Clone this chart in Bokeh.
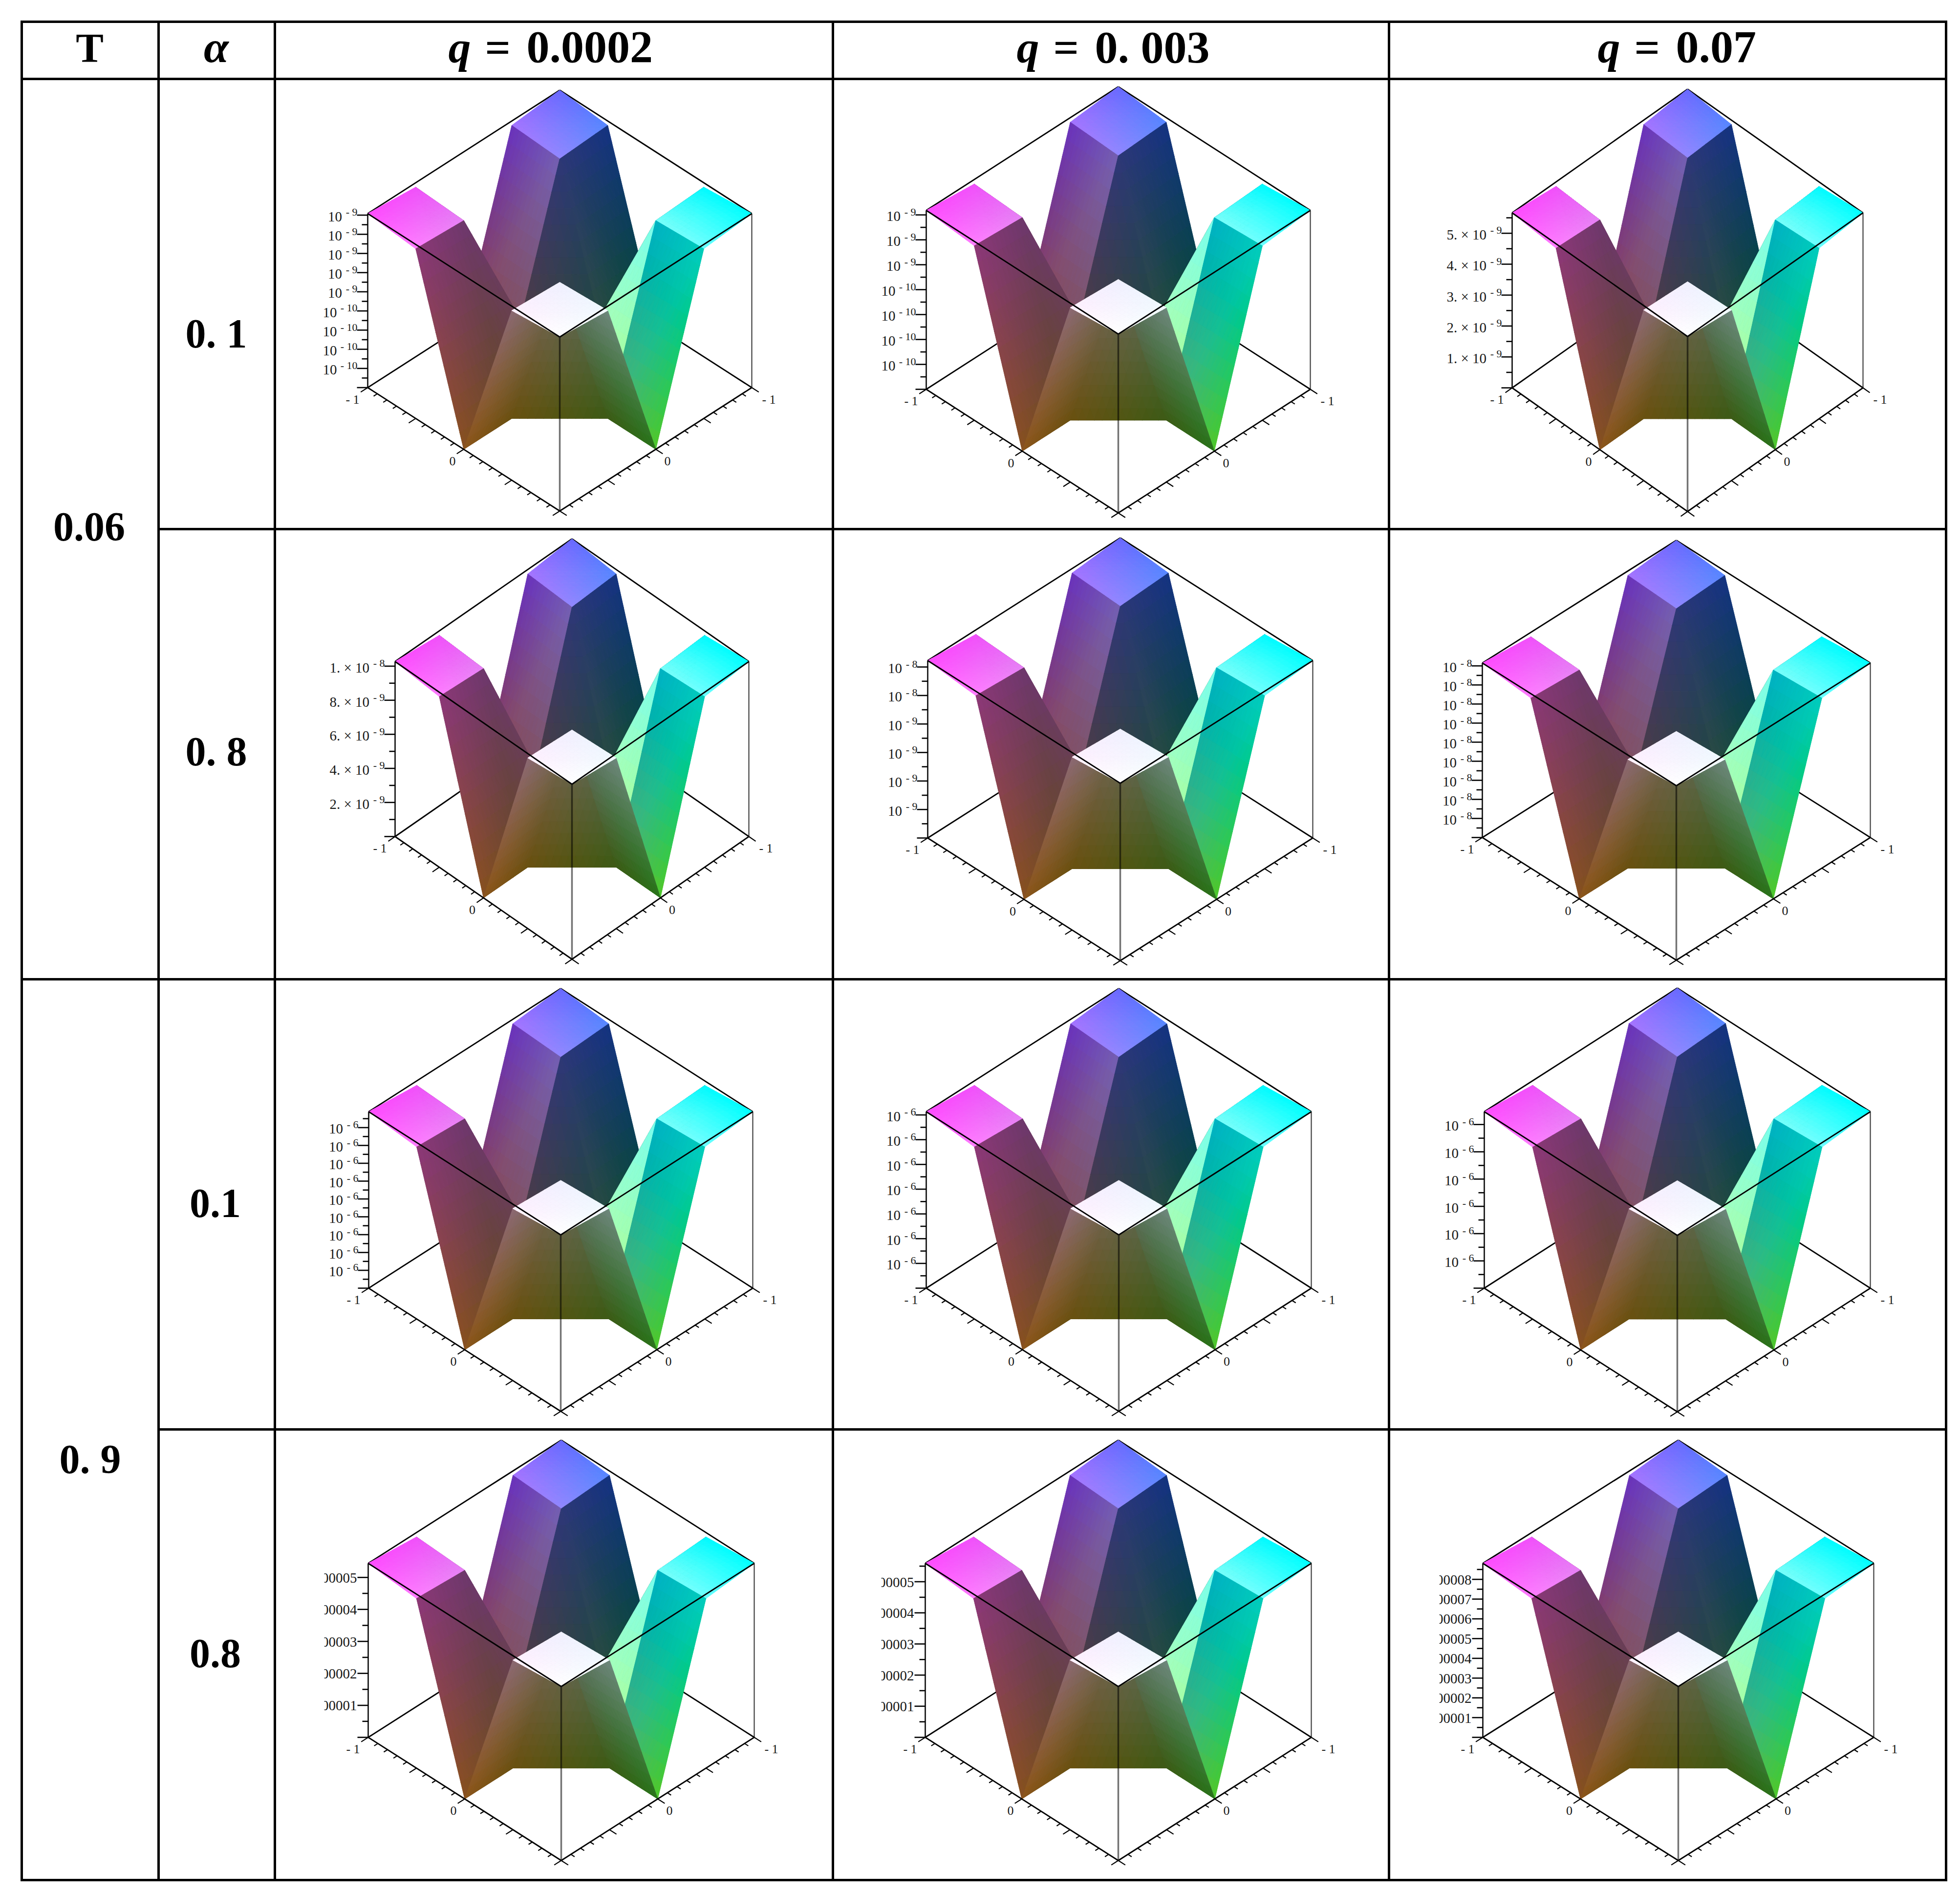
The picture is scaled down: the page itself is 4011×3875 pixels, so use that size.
import numpy as np
from bokeh.plotting import figure
from bokeh.models import ColumnDataSource, Range1d
from bokeh.embed import file_html
from bokeh.resources import INLINE
from bokeh.core.properties import value

# ---------- data ----------
T_LABELS = ["0.06", "0. 9"]
ALPHA_LABELS = ["0. 1", "0. 8", "0.1", "0.8"]
Q_LABELS = ["0.0002", "0. 003", "0.07"]
GRID = [-1.0, -0.5, 0.0, 0.5, 1.0]
# normalised height of the surface at GRID[i], GRID[j]
Z_SURFACE = [
    [1.000, 0.975, 0.0, 0.975, 1.000],
    [0.975, 0.960, 0.0, 0.960, 0.975],
    [0.000, 0.000, 0.0, 0.000, 0.000],
    [0.975, 0.960, 0.0, 0.960, 0.975],
    [1.000, 0.975, 0.0, 0.975, 1.000],
]
# top of vertical axis, tick step and tick count per panel (row by row)
Z_MAX = [9.08e-10, 7.18e-10, 5.66e-9, 1.027e-8, 1.245e-8, 9.15e-8,
         9.89e-6, 7.13e-6, 6.47e-6, 5.44e-5, 5.59e-5, 8.81e-5]
Z_STEP = [1e-10, 1e-10, 1e-9, 2e-9, 2e-9, 1e-8, 1e-6, 1e-6, 1e-6, 1e-5, 1e-5, 1e-5]
Z_COUNT = [9, 7, 5, 5, 6, 9, 9, 7, 6, 5, 5, 8]
# (label, exponent) shown on the vertical axis from the top down
Z_LABELS = [
    [("10", "- 9")] * 5 + [("10", "- 10")] * 4,
    [("10", "- 9")] * 3 + [("10", "- 10")] * 4,
    [("5. × 10", "- 9"), ("4. × 10", "- 9"), ("3. × 10", "- 9"), ("2. × 10", "- 9"), ("1. × 10", "- 9")],
    [("1. × 10", "- 8"), ("8. × 10", "- 9"), ("6. × 10", "- 9"), ("4. × 10", "- 9"), ("2. × 10", "- 9")],
    [("10", "- 8")] * 2 + [("10", "- 9")] * 4,
    [("10", "- 8")] * 9,
    [("10", "- 6")] * 9,
    [("10", "- 6")] * 7,
    [("10", "- 6")] * 6,
    [("0.00005", ""), ("0.00004", ""), ("0.00003", ""), ("0.00002", ""), ("0.00001", "")],
    [("0.00005", ""), ("0.00004", ""), ("0.00003", ""), ("0.00002", ""), ("0.00001", "")],
    [("0.00008", ""), ("0.00007", ""), ("0.00006", ""), ("0.00005", ""), ("0.00004", ""),
     ("0.00003", ""), ("0.00002", ""), ("0.00001", "")],
]

# ---------- shading of each surface cell: RGB at corners A(i,j) B(i+1,j) C(i,j+1) D(i+1,j+1) ----------
SHADE = {
    (0, 0): [(105, 105, 255), (165, 115, 255), (85, 135, 255), (145, 135, 255)],
    (0, 1): [(20, 50, 130), (45, 55, 120), (0, 75, 45), (40, 80, 50)],
    (0, 2): [(10, 90, 70), (30, 90, 70), (20, 120, 110), (30, 110, 110)],
    (0, 3): [(0, 250, 255), (120, 255, 250), (0, 255, 255), (110, 255, 255)],
    (1, 0): [(105, 50, 190), (140, 65, 70), (115, 95, 180), (130, 80, 80)],
    (1, 3): [(-25, 178, 197), (95, 175, 100), (-45, 205, 190), (80, 200, 40)],
    (2, 0): [(140, 65, 80), (120, 55, 120), (130, 75, 85), (125, 60, 110)],
    (2, 3): [(60, 90, 20), (105, 115, 110), (40, 115, 25), (110, 135, 125)],
    (3, 0): [(240, 80, 250), (255, 75, 255), (230, 130, 245), (255, 125, 255)],
    (3, 1): [(110, 55, 110), (140, 55, 120), (100, 75, 30), (135, 80, 30)],
    (3, 2): [(105, 80, 15), (140, 85, 25), (110, 105, 95), (140, 105, 115)],
    (3, 3): [(240, 240, 255), (255, 240, 255), (240, 250, 255), (255, 255, 255)],
}
# cells whose two triangles differ: (A,B,C), (B,C,D)
SHADE_TRI = {
    (1, 1): [[(45, 55, 120), (85, 60, 55), (30, 75, 50)], [(70, 70, 40), (70, 70, 40), (70, 70, 40)]],
    (1, 2): [[(30, 70, 50), (50, 70, 50), (30, 70, 70)], [(200, 255, 150), (120, 255, 240), (190, 255, 130)]],
    (2, 1): [[(130, 80, 80), (125, 60, 110), (135, 85, 85)], [(110, 55, 110), (100, 70, 60), (100, 75, 30)]],
    (2, 2): [[(75, 75, 20), (75, 75, 20), (75, 75, 20)], [(105, 80, 15), (60, 90, 20), (110, 105, 95)]],
}

# ---------- layout (reference pixels) ----------
W, H = 3995, 3859
# centre x, y of the top diamond's centre, half width, half height, axis height
PANELS = [
    (1145, 436.5, 393, 252.5, 356), (2288, 430, 393, 253, 366), (3453, 435, 359, 253, 358),
    (1170, 1353, 362, 251, 358), (2292, 1351, 394, 251, 363), (3430, 1356, 397, 251, 357),
    (1147, 2274, 393, 252, 361), (2289, 2274, 394, 252, 361), (3432, 2274, 395, 253, 361),
    (1148, 3198, 395, 252, 356), (2288, 3198, 395, 252, 356), (3434, 3198, 400, 252, 356),
]
CLIP_X = {9: 663, 10: 1803, 11: 2945}
SUB = 12
BASE = 0.33  # the text anchor sits this fraction of the font size above the glyph baseline

p = figure(width=W, height=H, x_range=Range1d(0, W), y_range=Range1d(H, 0),
           output_backend="svg", toolbar_location=None, min_border=0)
p.axis.visible = False
p.grid.visible = False
p.outline_line_color = None


def proj(panel, x, y, z):
    cx, cy, hw, hh, zh = panel
    return cx + hw * (y - x) / 2.0, cy + hh * (x + y) / 2.0 + zh * (1.0 - z)


# sub-triangles in barycentric terms
bary = []
for a in range(SUB):
    for b in range(SUB - a):
        bary.append(((a, b), (a + 1, b), (a, b + 1)))
        if a + b < SUB - 1:
            bary.append(((a + 1, b), (a, b + 1), (a + 1, b + 1)))
bary = np.array(bary, dtype=float) / SUB  # n,3,2


def hexcol(c):
    return "#%02x%02x%02x" % tuple(int(round(min(255, max(0, v)))) for v in c)


sx, sy, cols = [], [], []
cells = sorted([(i, j) for i in range(4) for j in range(4)], key=lambda t: t[0] + t[1])
Z_ARR = np.array(Z_SURFACE)
for panel in PANELS:
    for (i, j) in cells:
        idx = [(i, j), (i + 1, j), (i, j + 1), (i + 1, j + 1)]
        pts = np.array([proj(panel, GRID[a], GRID[b], Z_ARR[a, b]) for a, b in idx])
        if (i, j) in SHADE_TRI:
            t1, t2 = SHADE_TRI[(i, j)]
        else:
            s = SHADE[(i, j)]
            t1, t2 = s[:3], s[1:]
        for tri, tc in ((pts[:3], t1), (pts[1:], t2)):
            tc = np.array(tc, dtype=float)
            v0, v1, v2 = tri
            e1, e2 = v1 - v0, v2 - v0
            c0, c1, c2 = tc
            X = v0[0] + bary[:, :, 0] * e1[0] + bary[:, :, 1] * e2[0]
            Y = v0[1] + bary[:, :, 0] * e1[1] + bary[:, :, 1] * e2[1]
            cen = bary.mean(axis=1)
            C = c0 + cen[:, 0:1] * (c1 - c0) + cen[:, 1:2] * (c2 - c0)
            sx.extend(np.round(X, 1).tolist())
            sy.extend(np.round(Y, 1).tolist())
            cols.extend(hexcol(c) for c in C)

# ---------- box lines under the surface ----------
under = dict(x0=[], y0=[], x1=[], y1=[])
over = dict(x0=[], y0=[], x1=[], y1=[], w=[], a=[])


def seg(d, a, b, w=None, al=None):
    d["x0"].append(a[0]); d["y0"].append(a[1]); d["x1"].append(b[0]); d["y1"].append(b[1])
    if w is not None:
        d["w"].append(w); d["a"].append(al)


zlab = dict(x=[], y=[], t=[])
zexp = dict(x=[], y=[], t=[])
blab = dict(x=[], y=[], t=[])
for k, panel in enumerate(PANELS):
    cx, cy, hw, hh, zh = panel
    # back top, back bottom edges
    seg(under, proj(panel, -1, -1, 1), proj(panel, 1, -1, 1))
    seg(under, proj(panel, -1, -1, 1), proj(panel, -1, 1, 1))
    seg(under, proj(panel, -1, -1, 0), proj(panel, 1, -1, 0))
    seg(under, proj(panel, -1, -1, 0), proj(panel, -1, 1, 0))
    # front edges
    seg(over, proj(panel, 1, 1, 1), proj(panel, 1, -1, 1), 2.8, 1.0)
    seg(over, proj(panel, 1, 1, 1), proj(panel, -1, 1, 1), 2.8, 1.0)
    seg(over, proj(panel, 1, 1, 0), proj(panel, 1, -1, 0), 2.8, 1.0)
    seg(over, proj(panel, 1, 1, 0), proj(panel, -1, 1, 0), 2.8, 1.0)
    seg(over, proj(panel, 1, 1, 1), proj(panel, 1, 1, 0), 3.5, 0.55)
    seg(over, proj(panel, 1, -1, 1), proj(panel, 1, -1, 0), 2.8, 0.9)
    seg(over, proj(panel, -1, 1, 1), proj(panel, -1, 1, 0), 2.2, 0.75)
    # vertical axis ticks
    ax = cx - hw
    zm, st, n = Z_MAX[k], Z_STEP[k], Z_COUNT[k]
    for m in range(0, 2 * n + 4):
        zv = m * st / 2.0
        if zv > zm:
            break
        ty = cy + zh * (1 - zv / zm)
        major = (m % 2 == 0)
        seg(over, (ax - (22 if major else 12), ty), (ax, ty), 2.6, 1.0)
    tstart = ax - 22
    for m, (lab, ex) in enumerate(Z_LABELS[k]):
        zv = (n - m) * st
        ty = cy + zh * (1 - zv / zm)
        if ex:
            zexp["x"].append(tstart + 1); zexp["y"].append(ty + 1 - BASE * 22); zexp["t"].append(ex)
            off = 36 if ex.endswith("10") else 25.5
            zlab["x"].append(tstart - off - 5); zlab["y"].append(ty + 12.5 - BASE * 29); zlab["t"].append(lab)
        else:
            zlab["x"].append(tstart - 1); zlab["y"].append(ty + 10.5 - BASE * 29); zlab["t"].append(lab)
    # bottom axis ticks along both front edges
    for m in range(-10, 11):
        v = m / 10.0
        L = 17 if m % 5 == 0 else 9
        nrm = np.hypot(hw, hh)
        a = proj(panel, 1, v, 0)
        seg(over, a, (a[0] - L * hw / nrm, a[1] + L * hh / nrm), 2.2, 1.0)
        b = proj(panel, v, 1, 0)
        seg(over, b, (b[0] + L * hw / nrm, b[1] + L * hh / nrm), 2.2, 1.0)
    by = 33 - BASE * 26
    a = proj(panel, 1, -1, 0); blab["x"].append(a[0] - 31); blab["y"].append(a[1] + by); blab["t"].append("- 1")
    a = proj(panel, 1, 0, 0); blab["x"].append(a[0] - 23); blab["y"].append(a[1] + by); blab["t"].append("0")
    a = proj(panel, -1, 1, 0); blab["x"].append(a[0] + 35); blab["y"].append(a[1] + by); blab["t"].append("- 1")
    a = proj(panel, 0, 1, 0); blab["x"].append(a[0] + 24); blab["y"].append(a[1] + by); blab["t"].append("0")

p.segment("x0", "y0", "x1", "y1", source=ColumnDataSource(under), line_color="black", line_width=2.8)
p.patches(sx, sy, fill_color=cols, line_color=cols, line_width=1.0)
p.segment("x0", "y0", "x1", "y1", source=ColumnDataSource(over), line_color="black",
          line_width="w", line_alpha="a")

SERIF = value("Liberation Serif")
p.text("x", "y", "t", source=ColumnDataSource(zlab), text_font=SERIF, text_font_size="29px",
       text_align="right", text_baseline="alphabetic", text_color="#181818")
p.text("x", "y", "t", source=ColumnDataSource(zexp), text_font=SERIF, text_font_size="22px",
       text_align="right", text_baseline="alphabetic", text_color="#181818")
p.text("x", "y", "t", source=ColumnDataSource(blab), text_font=SERIF, text_font_size="26px",
       text_align="center", text_baseline="alphabetic", text_color="#181818")

# labels cut off by the left side of the pasted plots
for k, cx_ in CLIP_X.items():
    cy = PANELS[k][1]; zh = PANELS[k][4]
    p.quad(left=[cx_ - 70], right=[cx_], top=[cy], bottom=[cy + zh - 20], fill_color="white", line_color=None)

# ---------- table ----------
TX0, TX1, TX2, TX3, TX4, TX5 = 44, 324, 562, 1704, 2842, 3982
TY = [44, 161, 1082, 2003, 2924, 3846]
hx0 = [TX0, TX0, TX1, TX0, TX1, TX0]
p.segment(x0=hx0, y0=TY, x1=[TX5] * 6, y1=TY, line_color="black", line_width=5)
vx = [TX0, TX1, TX2, TX3, TX4, TX5]
p.segment(x0=vx, y0=[41.5] * 6, x1=vx, y1=[3848.5] * 6, line_color="black", line_width=5)

BOLD = dict(text_font=SERIF, text_font_style="bold", text_color="black", text_baseline="alphabetic")
BOLDIT = dict(text_font=SERIF, text_font_style="bold italic", text_color="black", text_baseline="alphabetic")
p.text([183], [126 - BASE * 85], ["T"], text_font_size="85px", text_align="center", **BOLD)
p.text([442], [126 - BASE * 92], ["α"], text_font_size="92px", text_align="center", **BOLDIT)
p.text([182, 184], [1105 - BASE * 84, 3013 - BASE * 84], T_LABELS, text_font_size="84px", text_align="center", **BOLD)
p.text([442, 442, 440, 440], [v - BASE * 84 for v in (710, 1565, 2489, 3410)], ALPHA_LABELS,
       text_font_size="84px", text_align="center", **BOLD)
QX = [917, 2080, 3269]
qy = 127 - BASE * 92
p.text(QX, [qy] * 3, ["q"] * 3, text_font_size="92px", text_align="left", **BOLDIT)
p.text([x + 75 for x in QX], [qy] * 3, ["="] * 3, text_font_size="92px", text_align="left", **BOLD)
p.text([x + 160 for x in QX], [127 - BASE * 94] * 3, Q_LABELS, text_font_size="94px", text_align="left", **BOLD)

open("out.html", "w").write(file_html(p, INLINE))
